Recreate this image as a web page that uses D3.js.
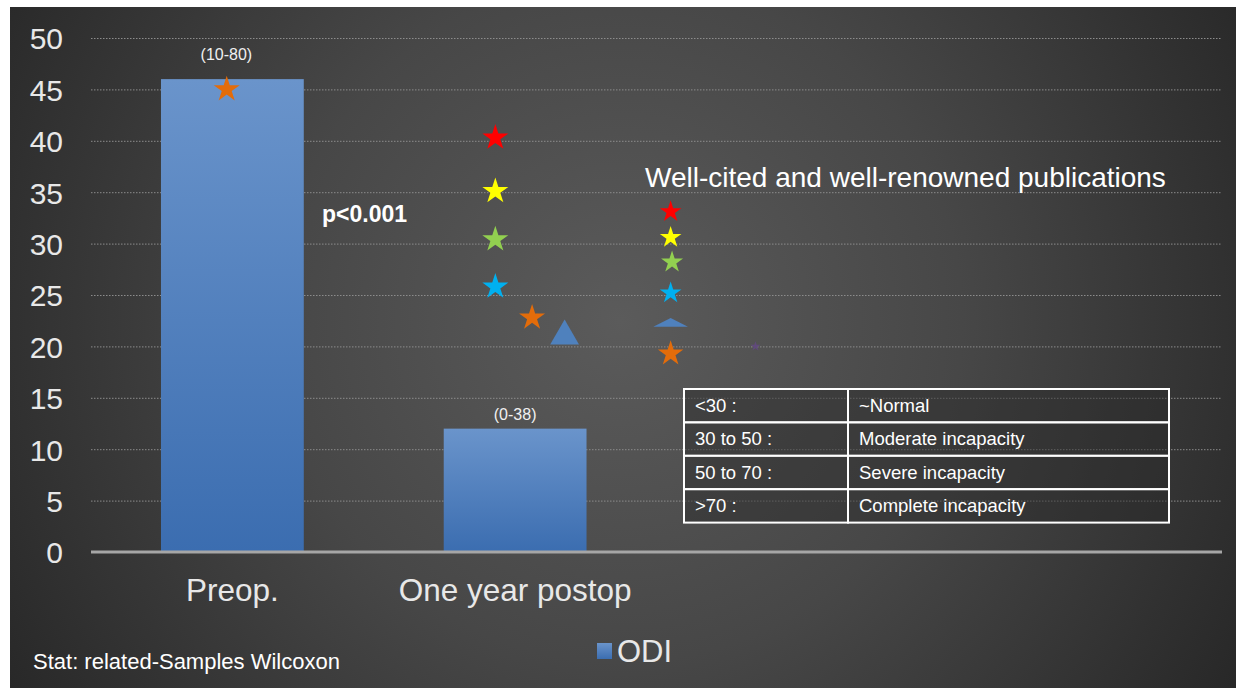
<!DOCTYPE html>
<html>
<head>
<meta charset="utf-8">
<script src="https://cdn.jsdelivr.net/npm/d3@7"></script>
<style>
  html, body { margin: 0; padding: 0; background: #ffffff; }
  svg { display: block; }
  text { font-family: "Liberation Sans", Arial, sans-serif; }
</style>
</head>
<body>
<svg id="chart" width="1236" height="688"></svg>
<script>
// ---------- data ----------
const categories = ["Preop.", "One year postop", "", " "];
const odiValues = [46, 12];
const rangeLabels = ["(10-80)", "(0-38)"];
const yTicks = [0, 5, 10, 15, 20, 25, 30, 35, 40, 45, 50];

// markers: position along the category axis (index units), value, colour, shape, size
const markerPos = [0.48, 1.43, 1.43, 1.43, 1.43, 1.56, 1.675, 2.05, 2.05, 2.055, 2.05, 2.05, 2.05, 2.35];
const markerVal = [45, 40.3, 35.1, 30.4, 25.8, 22.8, 21.0, 33.1, 30.6, 28.2, 25.2, 22.2, 19.3, 20.0];
const markerColor = ["#e36c0a", "#ff0000", "#ffff00", "#92d050", "#00b0f0", "#e36c0a", "#4f81bd",
                     "#ff0000", "#ffff00", "#92d050", "#00b0f0", "#4f81bd", "#e36c0a", "#604a7b"];
const markerShape = ["star", "star", "star", "star", "star", "star", "triangle",
                     "star", "star", "star", "star", "flatTriangle", "star", "star"];
const markerSize = [210, 210, 210, 210, 210, 210, 360, 145, 145, 150, 145, 300, 200, 30];

const tableLeft = ["<30 :", "30 to 50 :", "50 to 70 :", ">70 :"];
const tableRight = ["~Normal", "Moderate incapacity", "Severe incapacity", "Complete incapacity"];

// ---------- setup ----------
const svg = d3.select("#chart");
const W = 1236, H = 688;

const defs = svg.append("defs");
const bg = defs.append("radialGradient").attr("id", "bg")
  .attr("gradientUnits", "userSpaceOnUse")
  .attr("cx", 620).attr("cy", 320).attr("r", 760);
bg.append("stop").attr("offset", "0%").attr("stop-color", "#5b5b5b");
bg.append("stop").attr("offset", "45%").attr("stop-color", "#474747");
bg.append("stop").attr("offset", "100%").attr("stop-color", "#242424");

const barGrad = defs.append("linearGradient").attr("id", "barGrad")
  .attr("x1", 0).attr("y1", 0).attr("x2", 0).attr("y2", 1);
barGrad.append("stop").attr("offset", "0%").attr("stop-color", "#6a94cb");
barGrad.append("stop").attr("offset", "100%").attr("stop-color", "#3b6db0");

svg.append("rect").attr("x", 0).attr("y", 0).attr("width", W).attr("height", H).attr("fill", "#ffffff");
svg.append("rect").attr("x", 10).attr("y", 7).attr("width", W - 10).attr("height", H - 7).attr("fill", "url(#bg)");

const x0 = 91, x1 = 1222;
const y = d3.scaleLinear().domain([0, 50]).range([552, 38]);
const x = d3.scaleBand().domain(categories).range([x0, x1]).paddingInner(0.495).paddingOuter(0.2475);
const xm = d3.scaleLinear().domain([0, categories.length]).range([x0, x1]);

// gridlines
const grid = svg.append("g")
  .attr("transform", `translate(${x0},0)`)
  .call(d3.axisLeft(y).tickValues(yTicks.filter(v => v > 0)).tickSize(-(x1 - x0)).tickFormat(""));
grid.select(".domain").remove();
grid.selectAll("line").attr("stroke", "#8c8c8c").attr("stroke-width", 1).attr("stroke-dasharray", "1.5,1.5");

// y tick labels
const yAxis = svg.append("g")
  .attr("transform", "translate(63,0)")
  .call(d3.axisLeft(y).tickValues(yTicks).tickSize(0).tickPadding(0));
yAxis.select(".domain").remove();
yAxis.selectAll("text")
  .attr("fill", "#e8e8e8")
  .attr("font-size", 30)
  .attr("font-family", "'Liberation Sans', Arial, sans-serif")
  .attr("dy", "0.36em");

// bars
svg.append("g").selectAll("rect").data(odiValues).join("rect")
  .attr("x", (d, i) => x(categories[i]))
  .attr("y", d => y(d))
  .attr("width", x.bandwidth())
  .attr("height", d => y(0) - y(d))
  .attr("fill", "url(#barGrad)");

// baseline
svg.append("line")
  .attr("x1", x0).attr("x2", x1).attr("y1", y(0)).attr("y2", y(0))
  .attr("stroke", "#a6a6a6").attr("stroke-width", 3);

// range labels
const labelShiftX = [-6, 0];
const labelGap = [19, 9];
svg.append("g").selectAll("text").data(rangeLabels).join("text")
  .attr("x", (d, i) => x(categories[i]) + x.bandwidth() / 2 + labelShiftX[i])
  .attr("y", (d, i) => y(odiValues[i]) - labelGap[i])
  .attr("text-anchor", "middle")
  .attr("fill", "#f0f0f0")
  .attr("font-size", 16)
  .text(d => d);

// x axis labels
const xAxis = svg.append("g")
  .attr("transform", `translate(0,${y(0)})`)
  .call(d3.axisBottom(x).tickSize(0).tickPadding(0));
xAxis.select(".domain").remove();
xAxis.selectAll("text")
  .attr("fill", "#e8e8e8")
  .attr("font-size", 31.5)
  .attr("font-family", "'Liberation Sans', Arial, sans-serif")
  .attr("dy", "0")
  .attr("y", 49);

// markers
const flatTriangle = {
  draw(ctx, size) {
    const w = Math.sqrt(size * 2 / 0.5) / 2;
    const h = w * 0.5;
    ctx.moveTo(0, -h * 2 / 3);
    ctx.lineTo(w, h / 3);
    ctx.lineTo(-w, h / 3);
    ctx.closePath();
  }
};
const shapeMap = { star: d3.symbolStar, triangle: d3.symbolTriangle, flatTriangle: flatTriangle };
svg.append("g").selectAll("path").data(markerVal).join("path")
  .attr("transform", (d, i) => `translate(${xm(markerPos[i])},${y(d)})`)
  .attr("d", (d, i) => d3.symbol().type(shapeMap[markerShape[i]]).size(markerSize[i])())
  .attr("fill", (d, i) => markerColor[i]);

// annotations
svg.append("text").attr("x", 322).attr("y", 222)
  .attr("fill", "#ffffff").attr("font-size", 23).attr("font-weight", "bold")
  .text("p<0.001");

svg.append("text").attr("x", 645).attr("y", 187)
  .attr("fill", "#ffffff").attr("font-size", 28)
  .text("Well-cited and well-renowned publications");

// table
const tX = 684, tW = 485, colX = 848, tY = 389, rowH = 33.4;
const tbl = svg.append("g");
tableLeft.forEach((t, i) => {
  const ry = tY + i * rowH;
  tbl.append("rect").attr("x", tX).attr("y", ry).attr("width", colX - tX).attr("height", rowH)
    .attr("fill", "rgba(40,40,40,0.45)").attr("stroke", "#ffffff").attr("stroke-width", 2);
  tbl.append("rect").attr("x", colX).attr("y", ry).attr("width", tX + tW - colX).attr("height", rowH)
    .attr("fill", "rgba(40,40,40,0.45)").attr("stroke", "#ffffff").attr("stroke-width", 2);
  tbl.append("text").attr("x", tX + 11).attr("y", ry + 23)
    .attr("fill", "#ffffff").attr("font-size", 18.5).text(t);
  tbl.append("text").attr("x", colX + 11).attr("y", ry + 23)
    .attr("fill", "#ffffff").attr("font-size", 18.5).text(tableRight[i]);
});

// legend
svg.append("rect").attr("x", 597).attr("y", 643).attr("width", 15).attr("height", 16)
  .attr("fill", "url(#barGrad)");
svg.append("text").attr("x", 617).attr("y", 662)
  .attr("fill", "#e8e8e8").attr("font-size", 31).text("ODI");

svg.append("text").attr("x", 33).attr("y", 669)
  .attr("fill", "#ffffff").attr("font-size", 22).text("Stat: related-Samples Wilcoxon");
</script>
</body>
</html>
